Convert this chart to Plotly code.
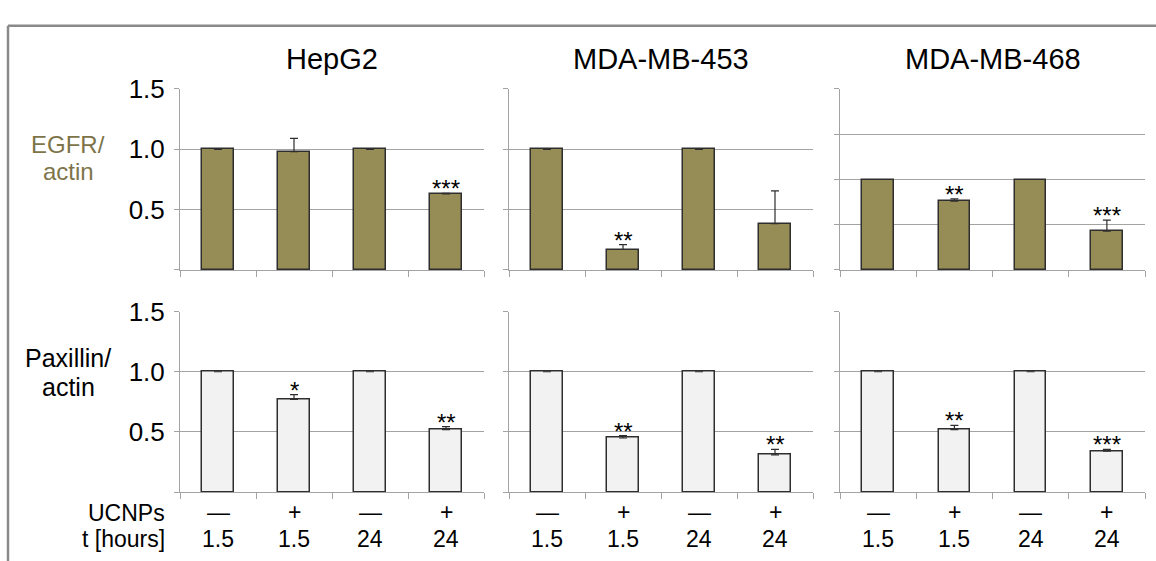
import plotly.graph_objects as go

# Cell lines (columns) and treatment conditions (bars within each panel)
cell_lines = ["HepG2", "MDA-MB-453", "MDA-MB-468"]
ucnps_labels = ["—", "+", "—", "+"]
hours_labels = ["1.5", "1.5", "24", "24"]

# EGFR / actin (top row)
egfr_hepg2 = [1.0, 0.98, 1.0, 0.63]
egfr_hepg2_err = [0.0, 0.11, 0.0, 0.005]
egfr_mb453 = [1.0, 0.17, 1.0, 0.385]
egfr_mb453_err = [0.0, 0.04, 0.0, 0.27]
egfr_mb468 = [1.0, 0.76, 1.0, 0.43]
egfr_mb468_err = [0.0, 0.025, 0.0, 0.12]

# Paxillin / actin (bottom row)
pax_hepg2 = [1.0, 0.77, 1.0, 0.52]
pax_hepg2_err = [0.0, 0.04, 0.0, 0.025]
pax_mb453 = [1.0, 0.45, 1.0, 0.31]
pax_mb453_err = [0.0, 0.02, 0.0, 0.045]
pax_mb468 = [1.0, 0.52, 1.0, 0.34]
pax_mb468_err = [0.0, 0.035, 0.0, 0.015]

# Significance marks
egfr_sig = [["", "", "", "***"], ["", "**", "", ""], ["", "**", "", "***"]]
pax_sig = [["", "*", "", "**"], ["", "**", "", "**"], ["", "**", "", "***"]]

# Y ranges per panel (MDA-MB-468 EGFR panel spans 0-2)
egfr_ymax = [1.5, 1.5, 2.0]
pax_ymax = [1.5, 1.5, 1.5]

W, H = 1156, 561
FONT = "Liberation Sans, Arial, sans-serif"
OLIVE = "#968c55"
OLIVE_TEXT = "#7d7449"
LIGHT = "#f2f2f2"
EDGE = "#2e2e2e"
GRID = "#a3a3a3"


def px(x):
    """Pixel column -> paper x."""
    return x / W


def py(y):
    """Pixel row (from top) -> paper y."""
    return 1 - y / H


col_px = [(180, 484), (509, 813), (840, 1145)]
top_px = (76, 262)
bot_px = (304.7, 490.3)

egfr_vals = [egfr_hepg2, egfr_mb453, egfr_mb468]
egfr_errs = [egfr_hepg2_err, egfr_mb453_err, egfr_mb468_err]
pax_vals = [pax_hepg2, pax_mb453, pax_mb468]
pax_errs = [pax_hepg2_err, pax_mb453_err, pax_mb468_err]

fig = go.Figure()
annotations = []
layout = {}
idx = list(range(len(hours_labels)))
boundaries = [i - 0.5 for i in range(len(hours_labels) + 1)]


def label(text, x, y, size, color="#000", xanchor="center", xref="paper"):
    annotations.append(dict(x=x, y=y, xref=xref, yref="paper", text=text,
                            showarrow=False, xanchor=xanchor, yanchor="middle",
                            font=dict(family=FONT, size=size, color=color)))


for row, (vals_all, errs_all, sig_all, ymaxes, fill, ypx) in enumerate([
    (egfr_vals, egfr_errs, egfr_sig, egfr_ymax, OLIVE, top_px),
    (pax_vals, pax_errs, pax_sig, pax_ymax, LIGHT, bot_px),
]):
    for col in range(3):
        n = row * 3 + col + 1
        xa = "x" if n == 1 else f"x{n}"
        ya = "y" if n == 1 else f"y{n}"
        vals = vals_all[col]
        errs = errs_all[col]
        fig.add_trace(go.Bar(
            x=idx, y=vals, width=0.41, xaxis=xa, yaxis=ya,
            marker=dict(color=fill, line=dict(color=EDGE, width=1.5)),
            error_y=dict(type="data", array=[e if e > 0 else None for e in errs],
                         arrayminus=[0] * len(errs),
                         symmetric=False, color=EDGE, thickness=1.2, width=4),
            showlegend=False, hoverinfo="skip",
        ))
        ymax = ymaxes[col]
        tv = [k * 0.5 for k in range(int(round(ymax / 0.5)) + 1)]
        layout["xaxis" if n == 1 else f"xaxis{n}"] = dict(
            domain=[px(col_px[col][0]), px(col_px[col][1])], anchor=ya, range=[-0.5, 3.5],
            showgrid=False, zeroline=False, showline=True, linecolor=GRID,
            linewidth=1, ticks="outside", ticklen=6, tickcolor=GRID,
            tickvals=boundaries, showticklabels=False, fixedrange=True,
        )
        layout["yaxis" if n == 1 else f"yaxis{n}"] = dict(
            domain=[py(ypx[1]), py(ypx[0])], anchor=xa, range=[0, ymax],
            showgrid=True, gridcolor=GRID, gridwidth=1, zeroline=False,
            showline=True, linecolor=GRID, linewidth=1,
            ticks="outside", ticklen=5, tickcolor=GRID,
            tickvals=tv, ticktext=["" if v == 0 else f"{v:.1f}" for v in tv],
            showticklabels=(col == 0), ticklabelstandoff=4,
            tickfont=dict(family=FONT, size=26, color="#000"), fixedrange=True,
        )
        # significance stars just above each error bar
        for i, s in enumerate(sig_all[col]):
            if s:
                annotations.append(dict(
                    x=i, y=vals[i] + errs[i], xref=xa, yref=ya, text=s,
                    showarrow=False, xanchor="center", yanchor="bottom", yshift=-11,
                    font=dict(family=FONT, size=24, color="#000")))
        if row == 0:
            label(cell_lines[col], px(sum(col_px[col]) / 2), py(45.5), 29)
        if row == 1:
            for i in idx:
                label(ucnps_labels[i], i, py(511), 23, xref=xa)
                label(hours_labels[i], i, py(538.5), 23, xref=xa)

# row titles
label("EGFR/", px(68), py(133), 24, OLIVE_TEXT)
label("actin", px(68), py(160.5), 24, OLIVE_TEXT)
label("Paxillin/", px(68), py(352), 25)
label("actin", px(68), py(382), 25)
# condition table row names
label("UCNPs", px(167), py(511.5), 23, xanchor="right")
label("t [hours]", px(167), py(538), 23, xanchor="right")

# outer frame: top and left edges
shapes = [
    dict(type="line", xref="paper", yref="paper", x0=px(8), x1=1, y0=py(11), y1=py(11),
         line=dict(color="#8a8a8a", width=2.5)),
    dict(type="line", xref="paper", yref="paper", x0=px(8), x1=px(8), y0=0, y1=py(11),
         line=dict(color="#8a8a8a", width=2.5)),
]

fig.update_layout(
    width=W, height=H, margin=dict(l=0, r=0, t=0, b=0),
    paper_bgcolor="white", plot_bgcolor="white",
    annotations=annotations, shapes=shapes, bargap=0,
    **layout,
)

fig.write_html("out.html")
